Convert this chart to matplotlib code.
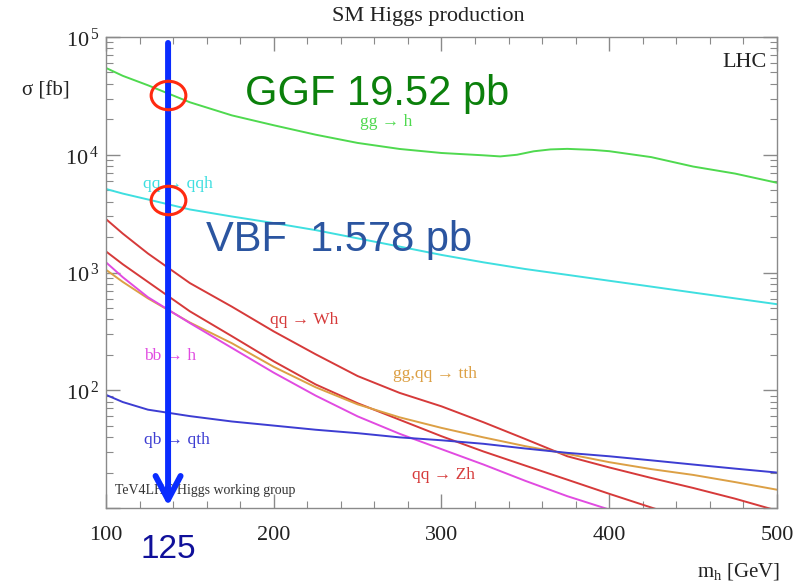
import numpy as np
import matplotlib
matplotlib.use("Agg")
import matplotlib.pyplot as plt
from matplotlib.path import Path
from matplotlib.patches import FancyArrowPatch
from matplotlib.ticker import FixedLocator, LogLocator, FuncFormatter, NullFormatter

plt.rcParams["mathtext.fontset"] = "custom"
plt.rcParams["mathtext.rm"] = "Liberation Serif"
plt.rcParams["mathtext.it"] = "Liberation Serif:italic"

# Higgs mass [GeV] and cross sections [fb]
mh = [100, 110, 125, 150, 175, 200, 225, 250, 275, 300, 325, 350, 375, 400, 425, 450, 475, 500]
mh_ggf = [100, 110, 125, 150, 175, 200, 225, 250, 275, 300, 325, 335, 345, 355, 365, 375,
          390, 400, 425, 450, 475, 500]
ggf = [54600, 46800, 38900, 27900, 21600, 17800, 14800, 12600, 11200, 10350, 9890, 9680,
       10000, 10700, 11100, 11220, 11000, 10720, 9550, 7940, 6920, 5780]
vbf = [5120, 4680, 4170, 3430, 2990, 2630, 2290, 1950, 1660, 1410, 1220, 1070, 955, 851, 759, 676, 603, 538]
wh = [2840, 2140, 1450, 813, 513, 316, 202, 132, 95, 73, 53.5, 38.5, 27.5, 22.1, 18, 14.8, 12.0, 9.5]
zh = [1510, 1175, 832, 468, 288, 176, 112, 77.6, 56.2, 40.7, 30.2, 22.9, 17.4, 13.2, 10.1, 7.8, 6.0, 4.7]
tth = [1055, 832, 603, 376, 251, 158, 106, 75.9, 58.9, 47.9, 39.8, 33.5, 28.8, 24.5, 21.4, 19.1, 16.6, 14.3]
bbh = [1220, 912, 617, 372, 229, 141, 90, 60, 42.7, 31.6, 23.4, 17, 12.6, 9.7, 7.4, 5.7, 4.4, 3.4]
qth = [91.4, 79.4, 68.4, 60.3, 54.3, 50.1, 46.2, 43.2, 39.8, 37.6, 35.1, 32, 29.4, 27.5, 25.4, 23.4, 21.6, 20]

# process labels: text, x [GeV], y [fb]
curve_labels = [
    ("gg → h", 267, 19000, "#4fd94f"),
    ("qq → qqh", 143, 5680, "#3fdfe0"),
    ("qq → Wh", 218, 396, "#d63a3a"),
    ("gg,qq → tth", 296, 138, "#dca045"),
    ("bb → h", 138, 196, "#e14be1"),
    ("qb → qth", 142, 37.9, "#3d3dd2"),
    ("qq → Zh", 301, 19.1, "#d63a3a"),
]

# annotation: marked mass and the two highlighted points
mark_x = 137
circle_y = [32400, 4150]

serif = ["Liberation Serif", "DejaVu Serif"]
sans = ["Liberation Sans", "DejaVu Sans"]

fig = plt.figure(figsize=(8.12, 5.87), dpi=100)
ax = fig.add_axes([106 / 812, 1 - 508 / 587, (777 - 106) / 812, (508 - 37) / 587])
ax.set_yscale("log")
ax.set_xlim(100, 500)
ax.set_ylim(10, 1e5)

lw = 1.4
ax.plot(mh_ggf, ggf, color="#4fd94f", lw=lw)
ax.plot(mh, vbf, color="#3fdfe0", lw=lw)
ax.plot(mh, wh, color="#d63a3a", lw=lw)
ax.plot(mh, zh, color="#d63a3a", lw=lw)
ax.plot(mh, tth, color="#dca045", lw=lw)
ax.plot(mh, bbh, color="#e14be1", lw=lw)
ax.plot(mh, qth, color="#3d3dd2", lw=lw)

for s in ax.spines.values():
    s.set_color("#8a8a8a")
    s.set_linewidth(1.0)

ax.xaxis.set_major_locator(FixedLocator([100, 200, 300, 400, 500]))
ax.xaxis.set_minor_locator(FixedLocator(np.arange(100, 501, 20)))
ax.yaxis.set_major_locator(LogLocator(base=10, numticks=10))
ax.yaxis.set_minor_locator(LogLocator(base=10, subs=np.arange(2, 10), numticks=20))
ax.yaxis.set_minor_formatter(NullFormatter())
ax.yaxis.set_major_formatter(FuncFormatter(
    lambda v, p: r"$10^{\,%d}$" % round(np.log10(v)) if round(np.log10(v)) > 1 else ""))
ax.tick_params(which="both", direction="in", top=True, right=True, colors="#8a8a8a",
               labelcolor="#222222", labelsize=16)
ax.tick_params(which="major", length=10, width=1.0)
ax.tick_params(which="minor", length=5, width=0.8)
ax.tick_params(axis="x", which="major", pad=13)
ax.tick_params(axis="y", which="major", pad=5)
for lab in ax.get_xticklabels():
    lab.set_family(serif)

fig.text(428 / 812, 1 - 17 / 587, "SM Higgs production", ha="center", va="center",
         fontsize=16, family=serif, color="#222222")
fig.text(22 / 812, 1 - 91 / 587, "σ [fb]", ha="left", va="center", fontsize=15,
         family=serif, color="#222222")
fig.text(780 / 812, 1 - 572 / 587, r"m$_\mathregular{h}$ [GeV]", ha="right", va="center",
         fontsize=15, family=serif, color="#222222")

ax.text(0.985, 0.945, "LHC", transform=ax.transAxes, ha="right", va="center",
        fontsize=16, family=serif, color="#222222")
ax.text(0.014, 0.038, "TeV4LHC Higgs working group", transform=ax.transAxes, ha="left",
        va="center", fontsize=10, family=serif, color="#333333")

for txt, x, y, c in curve_labels:
    ax.text(x, y, txt, color=c, fontsize=12.5, family=serif, ha="center", va="center")

# overlay annotations
arrow = FancyArrowPatch((mark_x, 8.9e4), (mark_x, 10.4), arrowstyle="->,head_length=0.85,head_width=0.45",
                        mutation_scale=20, color="#0a2cff", lw=4.3, shrinkA=0, shrinkB=0,
                        clip_on=False, zorder=5)
ax.add_patch(arrow)

verts = Path.unit_circle().vertices * np.array([1.0, 0.82])
ell = Path(verts, Path.unit_circle().codes)
ax.plot([mark_x] * len(circle_y), circle_y, ls="none", marker=ell, markersize=25,
        markerfacecolor="none", markeredgecolor="#ff2a10", markeredgewidth=2.2, zorder=6, clip_on=False)

fig.text(377 / 812, 1 - 94 / 587, "GGF 19.52 pb", color="#0b800b", fontsize=30,
         family=sans, ha="center", va="center")
fig.text(339 / 812, 1 - 240 / 587, "VBF  1.578 pb", color="#2b55a0", fontsize=30,
         family=sans, ha="center", va="center")
fig.text(168 / 812, 1 - 550 / 587, "125", color="#10109a", fontsize=24,
         family=sans, ha="center", va="center")

fig.savefig("out.png", dpi=100)
